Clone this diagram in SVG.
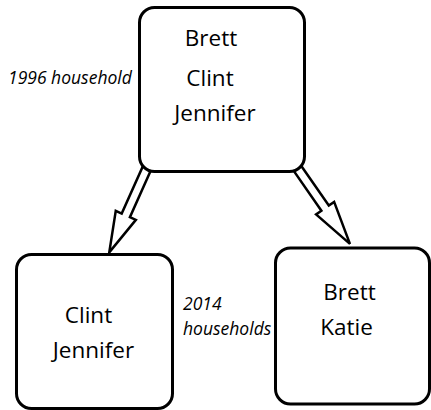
<svg xmlns="http://www.w3.org/2000/svg" width="431" height="410" viewBox="0 0 431 410">
<style>
.box{fill:#fff;stroke:#000;stroke-width:3}
.name{font-family:"Open Sans","Noto Sans",sans-serif;font-size:22.5px;fill:#000;text-anchor:middle}
.lbl{font-family:"Open Sans","Noto Sans",sans-serif;font-size:17.5px;font-style:italic;fill:#000}
.arrow{fill:#fff;stroke:#000;stroke-width:2.5;stroke-linejoin:miter}
</style>
<rect width="431" height="410" fill="#fff"/>
<g id="connectors">
<path class="arrow" transform="translate(145,172.5) rotate(114.1)" d="M-6,-4.5 L47,-4.5 L47,-11 L87.5,0 L47,11 L47,4.5 L-6,4.5 Z"/>
<path class="arrow" transform="translate(300,172) rotate(55.2)" d="M-6,-4.5 L44,-4.5 L44,-11 L87.5,0 L44,11 L44,4.5 L-6,4.5 Z"/>
</g>
<g id="n1996">
<rect class="box" x="139.5" y="7.5" width="165" height="164" rx="15"/>
<text class="name" x="211" y="46">Brett</text>
<text class="name" x="210" y="86">Clint</text>
<text class="name" x="215" y="121">Jennifer</text>
</g>
<g id="nClintJennifer">
<rect class="box" x="16.5" y="254.5" width="156" height="154" rx="15"/>
<text class="name" x="88.5" y="323">Clint</text>
<text class="name" x="93.5" y="358">Jennifer</text>
</g>
<g id="nBrettKatie">
<rect class="box" x="275.5" y="248" width="154" height="156" rx="15"/>
<text class="name" x="349.5" y="300">Brett</text>
<text class="name" x="346.5" y="335">Katie</text>
</g>
<g id="labels">
<text class="lbl" x="8" y="84">1996 household</text>
<text class="lbl" x="183" y="310">2014</text>
<text class="lbl" x="183" y="335">households</text>
</g>
</svg>
